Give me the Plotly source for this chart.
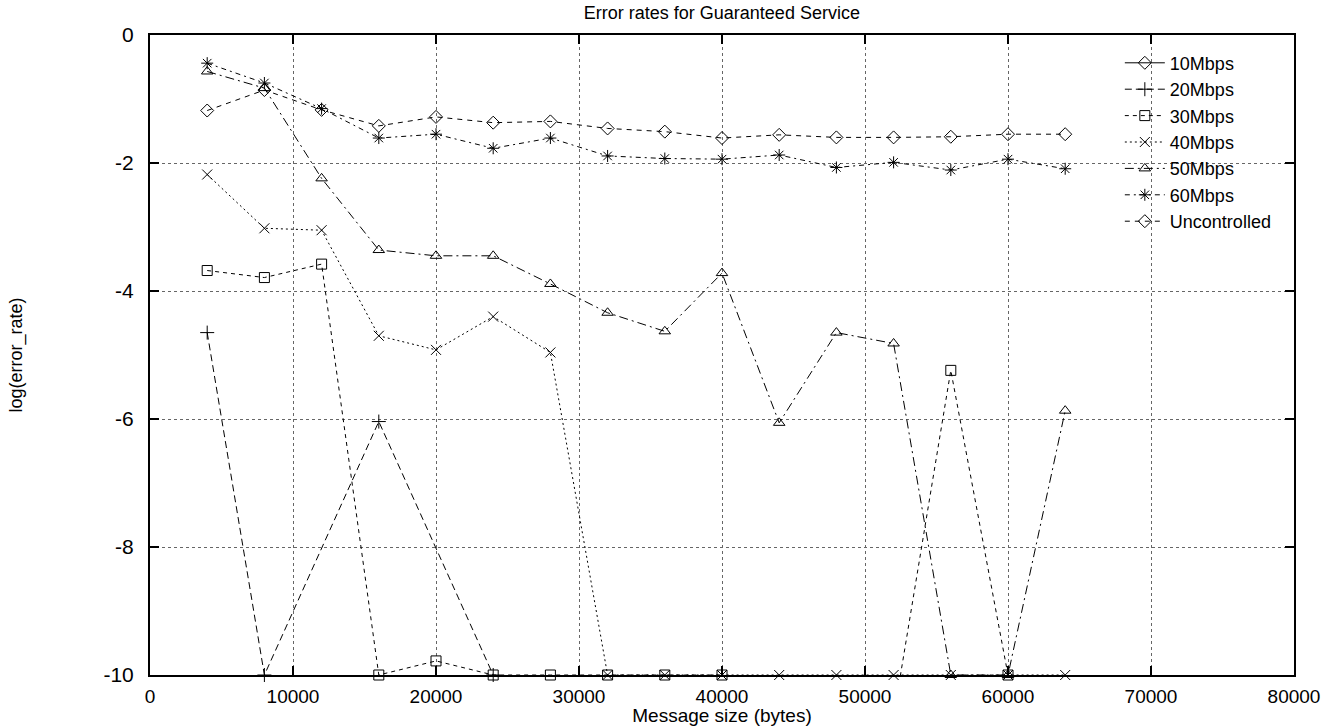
import plotly.graph_objects as go

# ---- data ----
msg_size = [4000, 8000, 12000, 16000, 20000, 24000, 28000, 32000,
            36000, 40000, 44000, 48000, 52000, 56000, 60000, 64000]

x_10 = [None]
y_10 = [None]

x_20 = [4000, 8000, 16000, 24000]
y_20 = [-4.65, -10, -6.04, -10]

x_30 = [4000, 8000, 12000, 16000, 20000, 24000, 28000, 32000,
        36000, 40000, 44000, 48000, 52000, 56000, 60000]
y_30 = [-3.68, -3.79, -3.58, -10, -9.78, -10, -10, -10,
        -10, -10, -10.65, -10.65, -10.65, -5.24, -10]

y_40 = [-2.18, -3.02, -3.05, -4.70, -4.92, -4.40, -4.96, -10,
        -10, -10, -10, -10, -10, -10, -10, -10]

y_50 = [-0.57, -0.83, -2.24, -3.36, -3.45, -3.45, -3.89, -4.34,
        -4.63, -3.72, -6.06, -4.65, -4.82, -10, -10, -5.87]

y_60 = [-0.44, -0.75, -1.15, -1.61, -1.55, -1.77, -1.61, -1.89,
        -1.93, -1.94, -1.875, -2.07, -1.99, -2.11, -1.94, -2.09]

y_unc = [-1.18, -0.86, -1.17, -1.42, -1.28, -1.37, -1.35, -1.46,
         -1.51, -1.61, -1.56, -1.60, -1.60, -1.59, -1.55, -1.55]

x_ticks = [0, 10000, 20000, 30000, 40000, 50000, 60000, 70000, 80000]
x_tick_labels = ["0", "10000", "20000", "30000", "40000", "50000", "60000", "70000", "80000"]
y_ticks = [0, -2, -4, -6, -8, -10]
y_tick_labels = ["0", "-2", "-4", "-6", "-8", "-10"]

FONT = "Liberation Sans, Arial, Helvetica, sans-serif"

series = [
    ("10Mbps", x_10, y_10, "diamond-open", "solid"),
    ("20Mbps", x_20, y_20, "cross-thin-open", "7px,4px"),
    ("30Mbps", x_30, y_30, "square-open", "4px,4px"),
    ("40Mbps", msg_size, y_40, "x-thin-open", "2px,3px"),
    ("50Mbps", msg_size, y_50, "triangle-up-open", "9px,4px,2px,4px"),
    ("60Mbps", msg_size, y_60, "asterisk-open", "5px,4px,2px,4px"),
    ("Uncontrolled", msg_size, y_unc, "diamond-open", "5px,5px"),
]

fig = go.Figure()
for name, xs, ys, sym, dash in series:
    fig.add_trace(go.Scatter(
        x=xs, y=ys, name=name, mode="lines+markers",
        line=dict(color="black", width=1, dash=dash),
        marker=dict(symbol=sym, size=10, color="black",
                    line=dict(color="black", width=1)),
        cliponaxis=False,
    ))

axis_common = dict(
    showline=True, linecolor="black", linewidth=2, mirror="allticks",
    ticks="inside", ticklen=9, tickwidth=2, tickcolor="black",
    showgrid=True, gridcolor="#666666", gridwidth=1, griddash="dot",
    zeroline=False, automargin=False,
)

fig.update_layout(
    width=1343, height=726,
    margin=dict(l=150, r=49, t=35, b=51),
    paper_bgcolor="white", plot_bgcolor="white",
    font=dict(family=FONT, size=18, color="black"),
    title=dict(text="Error rates for Guaranteed Service", x=0.5375, xanchor="center",
               y=0.983, yanchor="middle", font=dict(family=FONT, size=18)),
    xaxis=dict(range=[0, 80000], tickvals=x_ticks, ticktext=x_tick_labels,
               ticklabelstandoff=3,
               tickfont=dict(family=FONT, size=19, color="black"),
               title=dict(text="Message size (bytes)", standoff=3,
                          font=dict(family=FONT, size=19)),
               **axis_common),
    yaxis=dict(range=[-10, 0], tickvals=y_ticks, ticktext=y_tick_labels,
               ticklabelstandoff=10,
               tickfont=dict(family=FONT, size=21, color="black"),
               title=dict(text="log(error_rate)", standoff=76,
                          font=dict(family=FONT, size=18)),
               **axis_common),
    legend=dict(x=0.985, y=0.985, xanchor="right", yanchor="top",
                bgcolor="rgba(0,0,0,0)", borderwidth=0,
                font=dict(family=FONT, size=18), tracegroupgap=0,
                itemwidth=40),
    showlegend=True,
)

fig.write_html("out.html")
